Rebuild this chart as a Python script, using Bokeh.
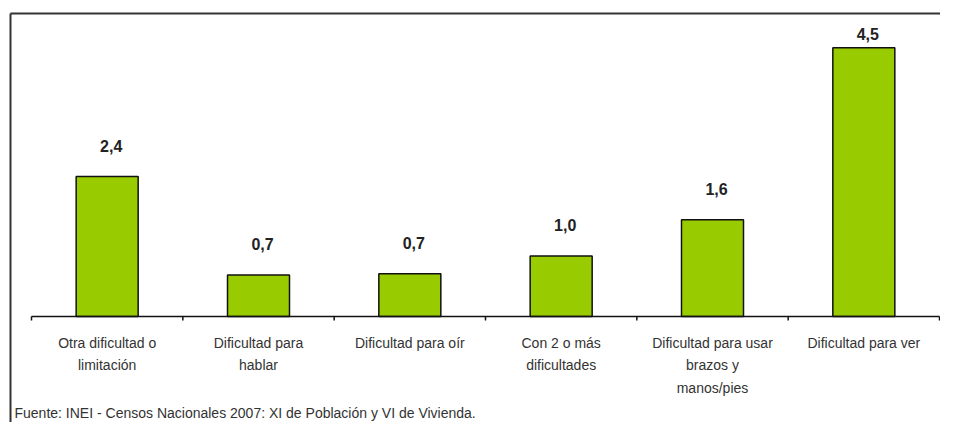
from bokeh.plotting import figure
from bokeh.models import Range1d, ColumnDataSource
from bokeh.core.properties import value
from bokeh.embed import file_html
from bokeh.resources import INLINE

# ---- data ----
categories = [
    "Otra dificultad o limitación",
    "Dificultad para hablar",
    "Dificultad para oír",
    "Con 2 o más dificultades",
    "Dificultad para usar brazos y manos/pies",
    "Dificultad para ver",
]
tick_labels = [
    "Otra dificultad o\nlimitación",
    "Dificultad para\nhablar",
    "Dificultad para oír",
    "Con 2 o más\ndificultades",
    "Dificultad para usar\nbrazos y\nmanos/pies",
    "Dificultad para ver",
]
values = [2.36, 0.70, 0.72, 1.02, 1.63, 4.53]
source_note = "Fuente: INEI - Censos Nacionales 2007: XI de Población y VI de Vivienda."

# ---- layout constants (pixels on the canvas) ----
W, H = 940, 422
axis_left_px = 31        # where category 0 starts
axis_right_px = 939      # where the last category ends
base_px = 316            # baseline (value 0) from canvas top
unit_px = 59.3           # pixels per unit of value
n = len(categories)
cat_px = (axis_right_px - axis_left_px) / n

x0 = -axis_left_px / cat_px
x1 = x0 + W / cat_px
y1 = base_px / unit_px
y0 = -(H - base_px) / unit_px


def dx(px):
    return px / cat_px


def dy(px):
    return px / unit_px


centers = [i + 0.5 for i in range(n)]
labels_txt = [f"{v:.1f}".replace(".", ",") for v in values]
label_y = [min(v + dy(31), y1 - dy(33)) for v in values]

bars = ColumnDataSource(dict(x=centers, top=values, ly=label_y, lab=labels_txt,
                             cat=categories, tick=tick_labels))

p = figure(width=W, height=H, output_backend="svg", toolbar_location=None,
           x_range=Range1d(x0, x1), y_range=Range1d(y0, y1),
           x_axis_location=None, y_axis_location=None,
           min_border=0)
p.outline_line_color = None
p.xgrid.visible = False
p.ygrid.visible = False
p.background_fill_color = "white"
p.border_fill_color = "white"

# outer frame (left and top edges)
fx = x0 + dx(10)
fy = y1 - dy(13)
p.segment(x0=[fx, fx], y0=[fy, fy], x1=[fx, x1], y1=[y0, fy],
          line_color="#333333", line_width=2)

# bars
p.vbar(x="x", top="top", width=62 / cat_px, source=bars, fill_color="#99CC00",
       line_color="#111111", line_width=1.5)

# value labels
p.text(x="x", y="ly", text="lab", source=bars, text_align="center",
       text_baseline="middle", x_offset=4, text_font=value("Liberation Sans"),
       text_font_style="bold", text_font_size="16px", text_color="#222222")

# category axis: baseline and boundary ticks
edges = list(range(n + 1))
p.segment(x0=[0], y0=[0], x1=[n], y1=[0], line_color="#111111", line_width=1.5)
p.segment(x0=edges, y0=[0] * len(edges), x1=edges, y1=[-dy(4)] * len(edges),
          line_color="#111111", line_width=1.5)

# category tick labels
p.text(x="x", y=0, text="tick", source=bars, text_align="center",
       text_baseline="top", y_offset=18, text_font=value("Liberation Sans"),
       text_font_size="14px", text_color="#333333", text_line_height=1.43)

# source note
p.text(x=[x0 + dx(14)], y=[-dy(96)], text=[source_note], text_align="left",
       text_baseline="middle", text_font=value("Liberation Sans"),
       text_font_size="14px", text_color="#333333")

open("out.html", "w").write(file_html(p, INLINE))
